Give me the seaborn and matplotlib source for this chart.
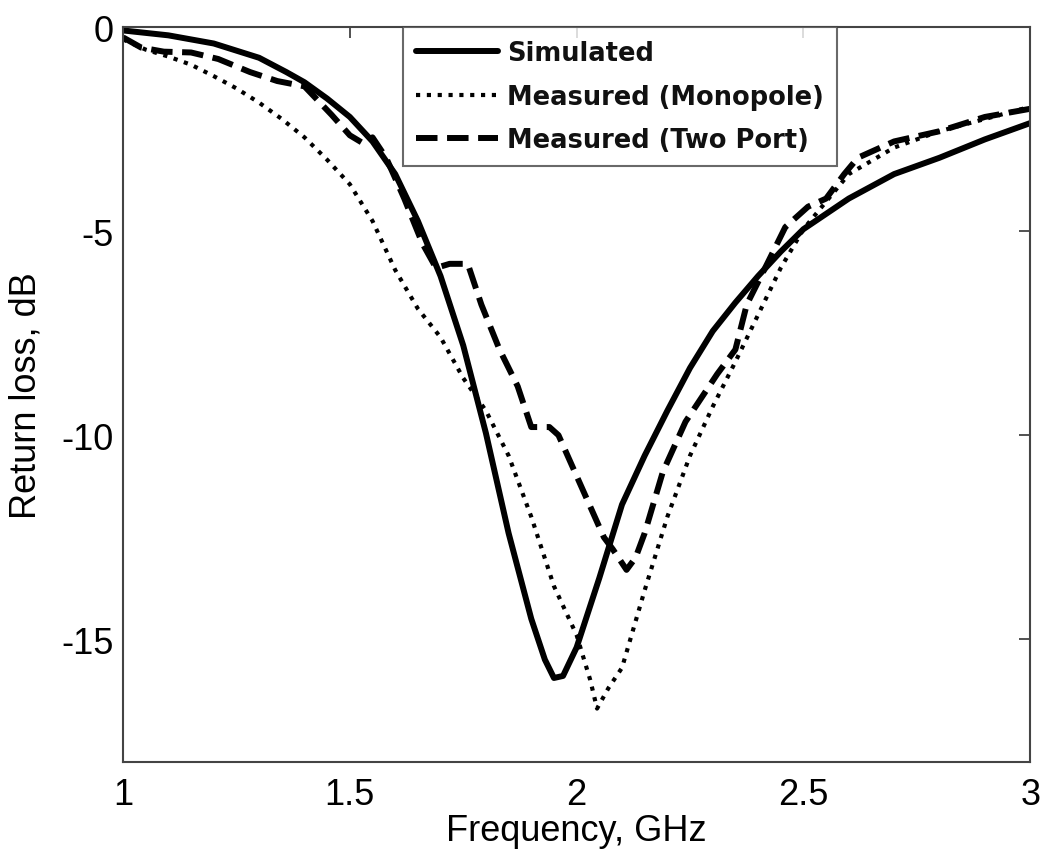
import numpy as np
import pandas as pd
import matplotlib
matplotlib.use("Agg")
import matplotlib.pyplot as plt
import seaborn as sns

# Simulated return loss
sim_freq = [1.00, 1.10, 1.20, 1.30, 1.36, 1.40, 1.45, 1.50, 1.55, 1.60, 1.65, 1.70,
            1.75, 1.80, 1.85, 1.90, 1.93, 1.95, 1.97, 2.00, 2.05, 2.10, 2.15, 2.20,
            2.25, 2.30, 2.35, 2.40, 2.45, 2.50, 2.60, 2.70, 2.80, 2.90, 3.00]
sim_db = [-0.08, -0.2, -0.4, -0.75, -1.1, -1.35, -1.75, -2.2, -2.8, -3.6, -4.75, -6.1,
          -7.8, -9.95, -12.4, -14.5, -15.5, -15.95, -15.9, -15.2, -13.5, -11.7, -10.5, -9.4,
          -8.35, -7.45, -6.75, -6.1, -5.5, -4.95, -4.2, -3.6, -3.2, -2.75, -2.35]

# Measured, monopole configuration
mono_freq = [1.00, 1.05, 1.10, 1.15, 1.20, 1.25, 1.30, 1.35, 1.40, 1.45, 1.50, 1.55,
             1.60, 1.65, 1.70, 1.75, 1.80, 1.85, 1.90, 1.95, 2.00, 2.03, 2.045, 2.07,
             2.10, 2.15, 2.20, 2.25, 2.30, 2.35, 2.40, 2.45, 2.50, 2.60, 2.70, 2.80,
             2.90, 3.00]
mono_db = [-0.3, -0.55, -0.72, -0.92, -1.2, -1.5, -1.85, -2.25, -2.7, -3.25, -3.85, -4.75,
           -5.95, -6.9, -7.6, -8.6, -9.4, -10.5, -12.0, -13.7, -14.9, -16.0, -16.7, -16.2,
           -15.7, -13.8, -12.0, -10.5, -9.3, -8.2, -7.05, -5.9, -4.95, -3.6, -2.95, -2.55,
           -2.25, -1.95]

# Measured, two-port configuration
two_freq = [1.00, 1.04, 1.09, 1.15, 1.21, 1.28, 1.34, 1.40, 1.46, 1.50, 1.53, 1.55,
            1.58, 1.62, 1.66, 1.69, 1.72, 1.76, 1.79, 1.83, 1.87, 1.90, 1.94, 1.96,
            2.00, 2.06, 2.08, 2.11, 2.13, 2.15, 2.19, 2.24, 2.31, 2.35, 2.375, 2.42,
            2.46, 2.51, 2.55, 2.59, 2.62, 2.70, 2.80, 2.90, 3.00]
two_db = [-0.25, -0.5, -0.6, -0.62, -0.78, -1.1, -1.32, -1.45, -2.15, -2.65, -2.85, -2.7,
          -3.2, -4.2, -5.3, -5.9, -5.8, -5.8, -6.8, -7.9, -8.8, -9.8, -9.8, -10.0,
          -11.0, -12.5, -12.8, -13.3, -13.0, -12.4, -10.9, -9.67, -8.5, -7.9, -6.8, -5.8,
          -4.9, -4.4, -4.2, -3.6, -3.2, -2.8, -2.55, -2.2, -2.0]

labels = ["Simulated", "Measured (Monopole)", "Measured (Two Port)"]

sns.set_theme(style="white")
plt.rcParams["font.family"] = ["Liberation Sans", "DejaVu Sans"]
plt.rcParams["text.color"] = "black"
plt.rcParams["axes.labelcolor"] = "black"

fig = plt.figure(figsize=(10.47, 8.54), dpi=100)
ax = fig.add_axes([0.1175, 0.107, 0.8665, 0.860])

sns.lineplot(x=sim_freq, y=sim_db, ax=ax, color="black", linewidth=4.3,
             label=labels[0], sort=False)
sns.lineplot(x=mono_freq, y=mono_db, ax=ax, color="black", linewidth=3.0,
             label=labels[1], sort=False)
sns.lineplot(x=two_freq, y=two_db, ax=ax, color="black", linewidth=4.3,
             label=labels[2], sort=False)

lines = ax.get_lines()
lines[1].set_linestyle((0, (1.0, 1.6)))
lines[2].set_linestyle((0, (3.6, 1.6)))

ax.set_xlim(1, 3)
ax.set_ylim(-18, 0)
ax.set_xticks([1, 1.5, 2, 2.5, 3])
ax.set_xticklabels(["1", "1.5", "2", "2.5", "3"])
ax.set_yticks([0, -5, -10, -15])
ax.set_yticklabels(["0", "-5", "-10", "-15"])

ax.tick_params(direction="in", length=8, width=1.2, colors="#333333",
               labelcolor="black", labelsize=26, top=True, right=True)
ax.tick_params(axis="y", pad=7)
ax.tick_params(axis="x", pad=11)
for sp in ax.spines.values():
    sp.set_visible(True)
    sp.set_color("#444444")
    sp.set_linewidth(1.5)

ax.set_xlabel("Frequency, GHz", fontsize=26, labelpad=1)
ax.set_ylabel("Return loss, dB", fontsize=26)
ax.yaxis.set_label_coords(-0.088, 0.5)

leg = ax.legend(loc="upper left", bbox_to_anchor=(0.309, 1.0), frameon=True,
                fancybox=False, handlelength=3.2, handletextpad=0.35,
                borderaxespad=0, borderpad=0.5, labelspacing=0.68,
                prop={"family": "DejaVu Sans", "weight": "bold", "size": 18.5})
leg.get_frame().set_edgecolor("#444444")
leg.get_frame().set_linewidth(1.5)
for t in leg.get_texts():
    t.set_color("#111111")

fig.savefig("out.png", dpi=100, facecolor="white")
